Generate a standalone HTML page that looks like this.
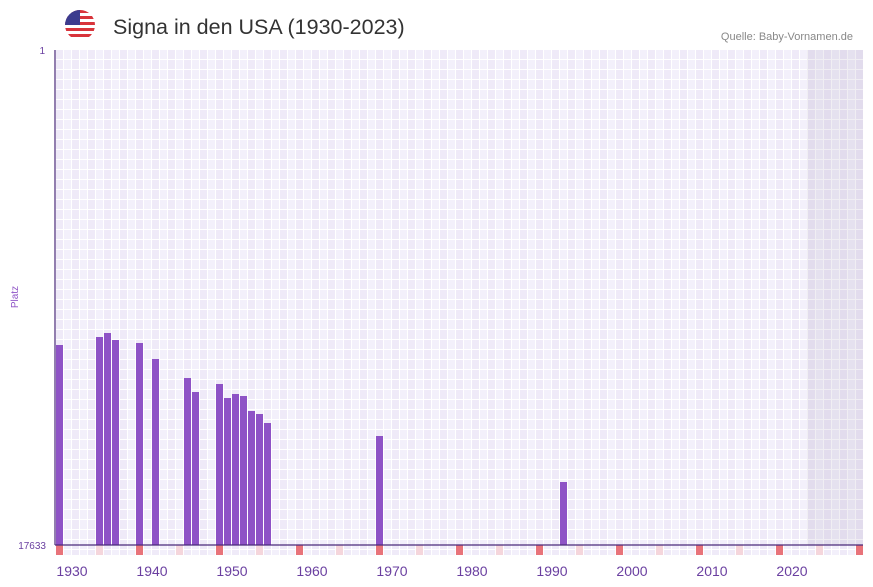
<!DOCTYPE html>
<html><head><style>body{margin:0;background:#fff}svg{display:block;font-family:"Liberation Sans",sans-serif}</style></head><body>
<svg width="873" height="587" xmlns="http://www.w3.org/2000/svg">
<defs>
<pattern id="g" x="56" y="50" width="16" height="10" patternUnits="userSpaceOnUse">
<rect width="8" height="10" fill="#efeaf8"/><rect x="8" width="8" height="10" fill="#f3f0fb"/>
<rect x="7" width="1" height="10" fill="#fff"/><rect x="15" width="1" height="10" fill="#fff"/>
<rect y="9" width="16" height="1" fill="#fff"/>
</pattern>
</defs>
<rect x="55" y="50" width="808" height="505" fill="url(#g)"/>
<rect x="807" y="50" width="56" height="495" fill="#9a8ab0" opacity="0.15"/>
<g transform="translate(1,0)">
<g fill="#8e53c6">
<rect x="55" y="345" width="7" height="200"/>
<rect x="95" y="337" width="7" height="208"/>
<rect x="103" y="333" width="7" height="212"/>
<rect x="111" y="340" width="7" height="205"/>
<rect x="135" y="343" width="7" height="202"/>
<rect x="151" y="359" width="7" height="186"/>
<rect x="183" y="378" width="7" height="167"/>
<rect x="191" y="392" width="7" height="153"/>
<rect x="215" y="384" width="7" height="161"/>
<rect x="223" y="398" width="7" height="147"/>
<rect x="231" y="394" width="7" height="151"/>
<rect x="239" y="396" width="7" height="149"/>
<rect x="247" y="411" width="7" height="134"/>
<rect x="255" y="414" width="7" height="131"/>
<rect x="263" y="423" width="7" height="122"/>
<rect x="375" y="436" width="7" height="109"/>
<rect x="559" y="482" width="7" height="63"/>
</g>
<g fill="#e8737a">
<rect x="55" y="545" width="7" height="10"/><rect x="135" y="545" width="7" height="10"/><rect x="215" y="545" width="7" height="10"/><rect x="295" y="545" width="7" height="10"/><rect x="375" y="545" width="7" height="10"/><rect x="455" y="545" width="7" height="10"/><rect x="535" y="545" width="7" height="10"/><rect x="615" y="545" width="7" height="10"/><rect x="695" y="545" width="7" height="10"/><rect x="775" y="545" width="7" height="10"/><rect x="855" y="545" width="7" height="10"/>
</g>
<g fill="#f5d6dc">
<rect x="95" y="545" width="7" height="10"/><rect x="175" y="545" width="7" height="10"/><rect x="255" y="545" width="7" height="10"/><rect x="335" y="545" width="7" height="10"/><rect x="415" y="545" width="7" height="10"/><rect x="495" y="545" width="7" height="10"/><rect x="575" y="545" width="7" height="10"/><rect x="655" y="545" width="7" height="10"/><rect x="735" y="545" width="7" height="10"/><rect x="815" y="545" width="7" height="10"/>
</g>
</g>
<line x1="55" y1="50" x2="55" y2="545" stroke="#4a2a7a" stroke-width="1.2"/>
<line x1="55" y1="545" x2="863" y2="545" stroke="#4a2a7a" stroke-width="1.2"/>
<g fill="#6a3fa0" font-size="14" text-anchor="middle">
<text x="72" y="576">1930</text><text x="152" y="576">1940</text><text x="232" y="576">1950</text><text x="312" y="576">1960</text><text x="392" y="576">1970</text><text x="472" y="576">1980</text><text x="552" y="576">1990</text><text x="632" y="576">2000</text><text x="712" y="576">2010</text><text x="792" y="576">2020</text>
</g>
<g fill="#6a3fa0" font-size="10" text-anchor="end">
<text x="45" y="54">1</text><text x="46" y="549">17633</text>
</g>
<text transform="translate(18,297) rotate(-90)" fill="#8e53c6" font-size="10" text-anchor="middle">Platz</text>
<text x="853" y="40" fill="#888" font-size="11" text-anchor="end">Quelle: Baby-Vornamen.de</text>
<text x="113" y="34" fill="#333" font-size="21.5">Signa in den USA (1930-2023)</text>
<clipPath id="c"><circle cx="80" cy="25" r="15"/></clipPath>
<g clip-path="url(#c)">
<rect x="65" y="10" width="30" height="30" fill="#fff"/>
<rect x="65" y="10" width="30" height="3" fill="#d8343b"/><rect x="65" y="16" width="30" height="3" fill="#d8343b"/><rect x="65" y="22" width="30" height="3" fill="#d8343b"/><rect x="65" y="28" width="30" height="3" fill="#d8343b"/><rect x="65" y="34" width="30" height="3" fill="#d8343b"/>
<rect x="65" y="10" width="15" height="15" fill="#3c3b8e"/>
</g>
</svg>
</body></html>
